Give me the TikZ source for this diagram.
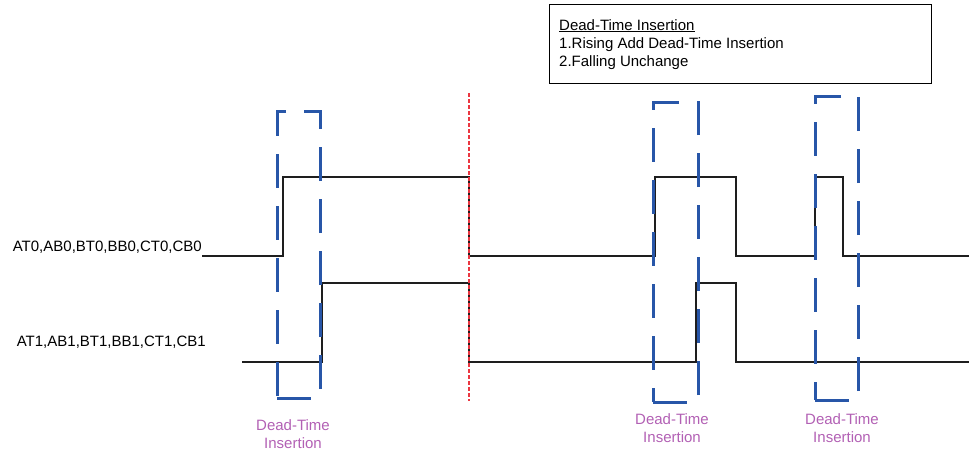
\documentclass[tikz,border=0pt]{standalone}
\usepackage{fontspec}
\setmainfont{Liberation Sans}
\usepackage{tikz}
\usetikzlibrary{positioning, calc}
\definecolor{dtblue}{RGB}{40, 86, 168}
\definecolor{dtpurple}{RGB}{178, 96, 180}
\definecolor{wavegray}{RGB}{30, 30, 30}
\definecolor{markred}{RGB}{235, 55, 65}
\tikzset{
    font=\fontsize{15}{18}\selectfont,
    wave/.style={line width=1.3pt, color=wavegray},
    dtbox/.style={rectangle, draw=dtblue, line width=3pt, dash pattern=on 34pt off 18pt, inner sep=0pt},
    dtlabel/.style={text=dtpurple, align=center, inner sep=0pt},
    notebox/.style={rectangle, draw=black, line width=1pt, inner sep=0pt, minimum width=382pt, minimum height=79pt},
    sigtext/.style={anchor=base east, inner sep=0pt},
    marker/.style={color=markred, line width=1.6pt, dash pattern=on 4pt off 2pt}
}
\begin{document}
\begin{tikzpicture}[x=1pt, y=-1pt]
    \useasboundingbox (0,0) rectangle (969,451);

    % note box
    \node (notebox) [notebox, anchor=north west] at (549,4) {};
    \node (notetext) [anchor=north west, align=left, inner sep=0pt] at (559,19)
        {\underline{Dead-Time Insertion}\\1.Rising Add Dead-Time Insertion\\2.Falling Unchange};

    % signal names
    \node (sig0) [sigtext] at (202,251) {AT0,AB0,BT0,BB0,CT0,CB0};
    \node (sig1) [sigtext] at (206,346) {AT1,AB1,BT1,BB1,CT1,CB1};

    % waveforms
    \draw [wave] (202,256) -| (283,177) -| (469,256) -| (655,177) -| (736,256) -| (815,177) -| (843,256) -- (969,256);
    \draw [wave] (242,362) -| (322,283) -| (469,362) -| (696,283) -| (736,362) -- (969,362);

    \draw [marker] (469,93) -- (469,401);

    % dead-time windows
    \node (dt1) [dtbox, minimum width=43pt, minimum height=287pt] at (298.5,254.5) {};
    \node (dt2) [dtbox, minimum width=45pt, minimum height=300pt] at (675.5,252) {};
    \node (dt3) [dtbox, minimum width=43pt, minimum height=304pt] at (836.5,248) {};

    \node (dt1lbl) [dtlabel, anchor=north] at (293,419) {Dead-Time\\Insertion};
    \node (dt2lbl) [dtlabel, anchor=north] at (672,413) {Dead-Time\\Insertion};
    \node (dt3lbl) [dtlabel, anchor=north] at (842,413) {Dead-Time\\Insertion};

\end{tikzpicture}
\end{document}
